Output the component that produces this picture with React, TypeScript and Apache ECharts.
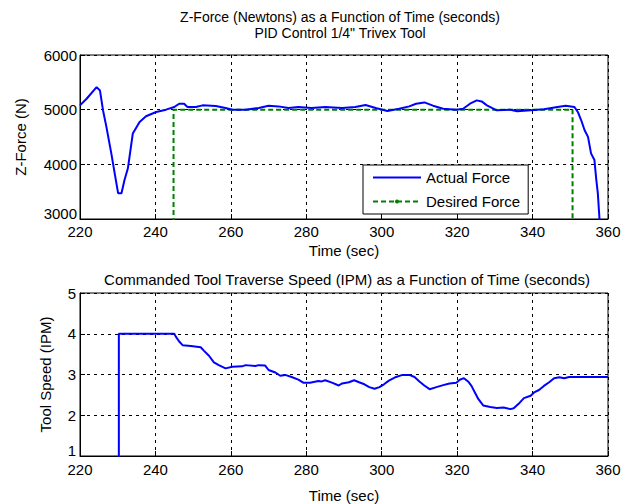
import React, { useEffect, useRef } from "react";
import * as echarts from "echarts";

const xTicks = { min: 220, max: 360, interval: 20 };
const forceTicks = { min: 3000, max: 6000, interval: 1000 };
const speedTicks = { min: 1, max: 5, interval: 1 };

const actualTime = [220, 221.75, 224.4, 225.3, 226.1, 227, 228.3, 229.2, 230.1, 231, 231.8, 232.7, 234, 235.8, 237.5, 240.2, 242.8, 245, 246.3, 247.6, 248.5, 250.7, 252.5, 256, 258.6, 260.4, 263.9, 267.4, 270, 272.6, 275.3, 277.9, 281.4, 285, 289.5, 293, 295.7, 298.4, 301.5, 304.6, 307.3, 309.1, 311.3, 313.6, 316.3, 319.8, 321.6, 323.4, 325.2, 326.5, 327.9, 330.5, 334.1, 335.9, 339.5, 343, 346.6, 348.8, 351.1, 352, 352.9, 353.8, 354.7, 355.5, 356.4, 356.9, 357.3, 357.7, 357.8];
const actualForce = [5079, 5200, 5412, 5350, 4990, 4685, 4200, 3836, 3473, 3470, 3715, 3927, 4564, 4776, 4879, 4958, 5000, 5048, 5109, 5109, 5048, 5048, 5079, 5067, 5030, 5000, 5000, 5030, 5073, 5060, 5030, 5048, 5030, 5048, 5030, 5048, 5085, 5030, 4976, 5018, 5060, 5109, 5133, 5073, 5018, 5000, 5018, 5109, 5170, 5151, 5079, 4988, 5000, 4970, 4988, 5006, 5048, 5073, 5048, 4958, 4806, 4624, 4503, 4200, 4079, 3715, 3473, 3048, 2900];

const desiredTime = [244.8, 244.8, 350.6, 350.6];
const desiredForce = [0, 5000, 5000, 0];

const speedTime = [230.3, 230.3, 245, 245.4, 246.3, 247.2, 249.4, 252, 252.9, 254.2, 255.5, 256.8, 258.6, 260.4, 263, 263.9, 266.5, 267.4, 269.1, 270, 271.8, 273.1, 274.4, 276.1, 277.9, 279.2, 281, 283.2, 284.1, 285, 286.8, 288.6, 289.5, 291.3, 292.7, 294, 295.4, 296.7, 298.1, 299.4, 300.6, 301.9, 303.8, 305.5, 307.3, 308.7, 310, 311.3, 312.7, 314.5, 316.3, 318, 319.8, 320.7, 321.8, 322.9, 323.8, 324.7, 325.6, 326.9, 328.8, 330.5, 332.3, 334.1, 335, 336.3, 337.7, 339.5, 340.4, 341.7, 343, 344.4, 345.7, 347.1, 348.4, 349.7, 360];
const speedValue = [0, 4, 4, 3.93, 3.81, 3.72, 3.7, 3.67, 3.58, 3.46, 3.3, 3.23, 3.15, 3.19, 3.2, 3.23, 3.21, 3.23, 3.22, 3.11, 3.05, 2.97, 2.99, 2.94, 2.875, 2.8, 2.8, 2.84, 2.83, 2.86, 2.8, 2.73, 2.78, 2.81, 2.86, 2.81, 2.76, 2.69, 2.65, 2.69, 2.76, 2.85, 2.94, 2.99, 2.99, 2.94, 2.83, 2.73, 2.64, 2.69, 2.74, 2.78, 2.8, 2.87, 2.91, 2.83, 2.72, 2.56, 2.4, 2.24, 2.2, 2.18, 2.19, 2.15, 2.17, 2.28, 2.42, 2.48, 2.56, 2.62, 2.72, 2.81, 2.91, 2.93, 2.91, 2.94, 2.94];

const FONT = "'Liberation Sans', Arial, sans-serif";

const zip = (xs: number[], ys: number[]) => xs.map((x, i) => [x, ys[i]]);

export default function App() {
  const ref = useRef<HTMLDivElement>(null);
  useEffect(() => {
    if (!ref.current) return;
    const chart = echarts.init(ref.current, null, { renderer: "svg" });
    const gridLine = { show: true, lineStyle: { color: "#000", type: [3, 4] as any, width: 1 } };
    const axisCommon = {
      axisLine: { show: true, lineStyle: { color: "#000", width: 1 } },
      axisTick: { show: true, inside: true, length: 5, lineStyle: { color: "#000" } },
      splitLine: gridLine,
      nameTextStyle: { color: "#000", fontFamily: FONT, fontSize: 15 },
    };
    const label = (margin: number) => ({
      color: "#000", fontFamily: FONT, fontSize: 15, margin, lineHeight: 12,
      formatter: (v: number) => String(v),
    });
    const yLabel = (margin: number) => ({ ...label(margin), verticalAlignMinLabel: "bottom" });
    const titleStyle = (size: number) => ({ fontFamily: FONT, fontSize: size, fontWeight: "normal", color: "#000" });
    chart.setOption({
      animation: false,
      backgroundColor: "#fff",
      title: [
        { text: "Z-Force (Newtons) as a Function of Time (seconds)", left: 340, top: 10, textAlign: "center", padding: 0, textStyle: titleStyle(14) },
        { text: "PID Control 1/4\" Trivex Tool", left: 340, top: 26, textAlign: "center", padding: 0, textStyle: titleStyle(14) },
        { text: "Commanded Tool Traverse Speed (IPM) as a Function of Time (seconds)", left: 342, top: 267, textAlign: "center", textStyle: titleStyle(15) },
      ],
      legend: {
        left: 363,
        top: 165,
        orient: "vertical",
        backgroundColor: "#fff",
        borderColor: "#000",
        borderWidth: 1,
        padding: [5, 8, 5, 9],
        itemWidth: 48,
        itemHeight: 5,
        itemGap: 9,
        textStyle: { fontFamily: FONT, fontSize: 15, color: "#000" },
        data: [
          { name: "Actual Force", itemStyle: { color: "rgba(0,0,0,0)", borderWidth: 0 } },
          { name: "Desired Force" },
        ],
      },
      grid: [
        { left: 80, top: 55, width: 528, height: 164, show: true, borderColor: "#000", borderWidth: 1, backgroundColor: "#fff" },
        { left: 80, top: 293, width: 528, height: 169, show: true, borderColor: "#000", borderWidth: 1, backgroundColor: "#fff" },
      ],
      xAxis: [
        {
          ...axisCommon, type: "value", gridIndex: 0, min: xTicks.min, max: xTicks.max, interval: xTicks.interval,
          name: "Time (sec)", nameLocation: "middle", nameGap: 24,
          axisLabel: label(6),
        },
        {
          ...axisCommon, type: "value", gridIndex: 1, min: xTicks.min, max: xTicks.max, interval: xTicks.interval,
          name: "Time (sec)", nameLocation: "middle", nameGap: 32,
          axisLabel: label(7),
        },
      ],
      yAxis: [
        {
          ...axisCommon, type: "value", gridIndex: 0, min: forceTicks.min, max: forceTicks.max, interval: forceTicks.interval,
          name: "Z-Force (N)", nameLocation: "middle", nameGap: 52,
          axisLabel: yLabel(3),
        },
        {
          ...axisCommon, type: "value", gridIndex: 1, min: speedTicks.min, max: speedTicks.max, interval: speedTicks.interval,
          name: "Tool Speed (IPM)", nameLocation: "middle", nameGap: 27,
          axisLabel: yLabel(4),
        },
      ],
      series: [
        {
          name: "Actual Force", type: "line", xAxisIndex: 0, yAxisIndex: 0,
          data: zip(actualTime, actualForce), symbol: "none", clip: true,
          lineStyle: { color: "#0000ff", width: 2 }, itemStyle: { color: "#0000ff" }, z: 3,
        },
        {
          name: "Desired Force", type: "line", xAxisIndex: 0, yAxisIndex: 0,
          data: zip(desiredTime, desiredForce), symbol: "none", clip: true,
          lineStyle: { color: "#008000", width: 2, type: [5, 3] as any }, itemStyle: { color: "#008000" }, z: 2,
        },
        {
          name: "Speed", type: "line", xAxisIndex: 1, yAxisIndex: 1,
          data: zip(speedTime, speedValue), symbol: "none", clip: true,
          lineStyle: { color: "#0000ff", width: 2 }, itemStyle: { color: "#0000ff" },
        },
      ],
    });
    return () => chart.dispose();
  }, []);
  return <div ref={ref} style={{ position: "fixed", left: 0, top: 0, width: 631, height: 504 }} />;
}
